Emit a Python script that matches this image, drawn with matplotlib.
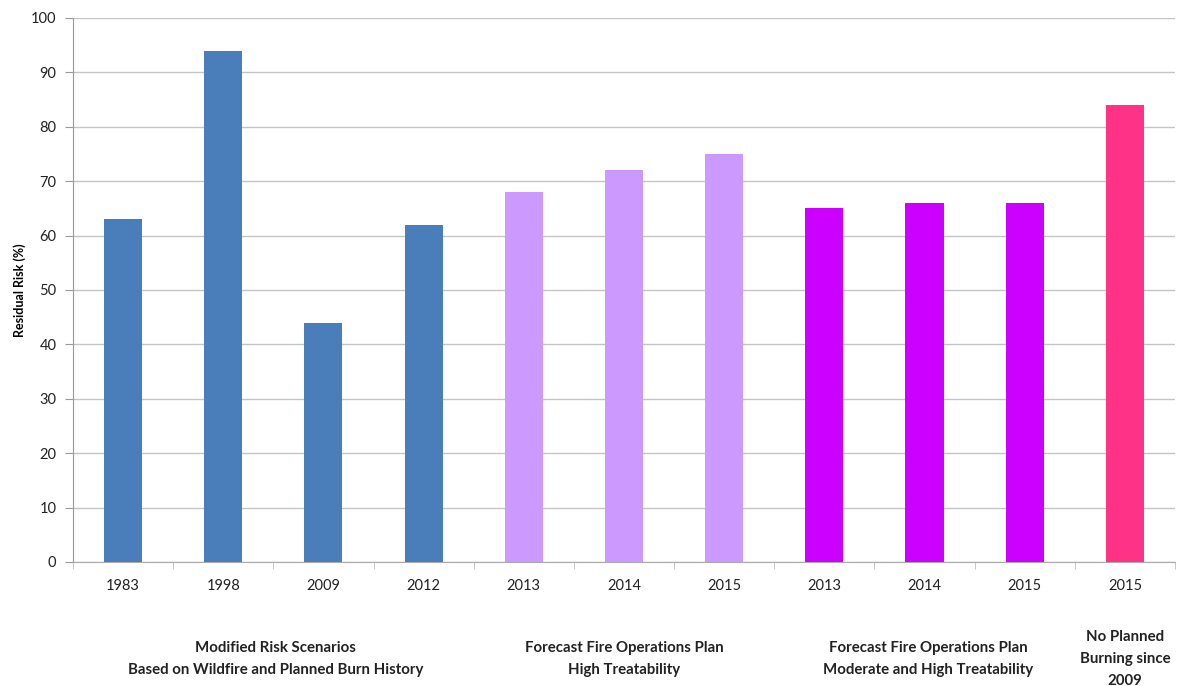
import matplotlib
matplotlib.use("Agg")
import matplotlib.pyplot as plt

# Residual risk for each scenario
years = ["1983", "1998", "2009", "2012", "2013", "2014", "2015",
         "2013", "2014", "2015", "2015"]
risk = [63, 94, 44, 62, 68, 72, 75, 65, 66, 66, 84]
colors = ["#4A7EBB"] * 4 + ["#CC99FF"] * 3 + ["#CC00FF"] * 3 + ["#FF3385"]

groups = [
    "Modified Risk Scenarios\nBased on Wildfire and Planned Burn History",
    "Forecast Fire Operations Plan\nHigh Treatability",
    "Forecast Fire Operations Plan\nModerate and High Treatability",
    "No Planned\nBurning since\n2009",
]
group_x = [1.52, 5.0, 8.04, 10.0]

plt.rcParams["font.family"] = ["Lato", "DejaVu Sans"]

fig = plt.figure(figsize=(11.79, 6.86), dpi=100)
ax = fig.add_axes([0.0619, 0.1808, 0.9347, 0.793])

x = list(range(len(risk)))
ax.bar(x, risk, width=0.38, color=colors, zorder=3)

ax.set_xlim(-0.5, len(risk) - 0.5)
ax.set_ylim(0, 100)
ax.set_yticks(range(0, 101, 10))
ax.set_xticks(x)
ax.set_xticklabels(years, fontsize=10.5, color="#222222")
ax.tick_params(axis="y", labelsize=10.5, labelcolor="#222222",
               length=6, color="#999999", pad=6)
ax.tick_params(axis="x", length=0, pad=12)
# category boundary ticks on the x axis
ax.set_xticks([i - 0.5 for i in range(len(risk) + 1)], minor=True)
ax.tick_params(axis="x", which="minor", length=5, color="#bbbbbb")

ax.grid(axis="y", color="#c4c4c4", linewidth=1, zorder=0)
for side in ["top", "right"]:
    ax.spines[side].set_visible(False)
ax.spines["left"].set_color("#999999")
ax.spines["bottom"].set_color("#aaaaaa")

ylab = ax.set_ylabel("Residual Risk (%)", fontsize=9, fontweight="bold")
ylab.set_va("center")
ax.yaxis.set_label_coords(-0.048, 0.5)

for gx, label in zip(group_x, groups):
    ax.text(gx, -0.178, label, transform=ax.get_xaxis_transform(),
            ha="center", va="center", fontsize=10.8, fontweight="bold",
            color="#222222", linespacing=1.7)

fig.savefig("out.png", dpi=100)
